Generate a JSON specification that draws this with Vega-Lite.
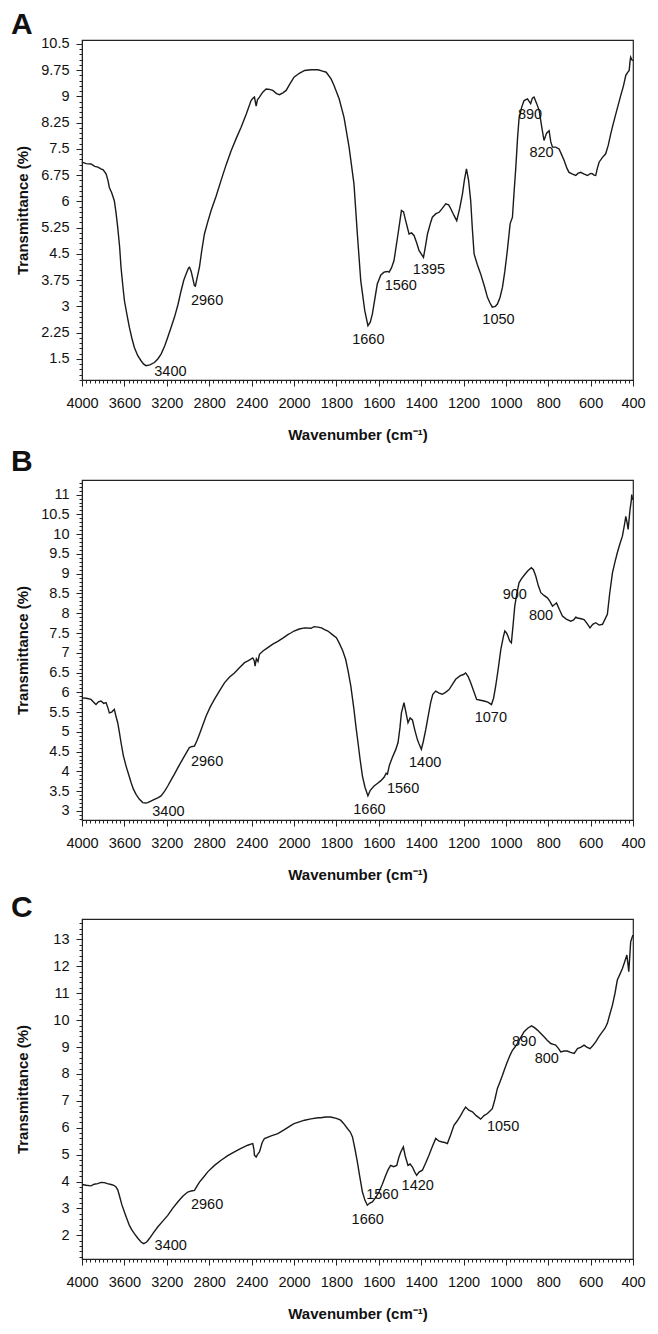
{
"$schema": "https://vega.github.io/schema/vega-lite/v6.json",
"padding": {"top": 9, "left": 10, "right": 0, "bottom": 0},
"spacing": 9,
"config": {
  "font": "Liberation Sans",
  "view": {"stroke": "#222", "strokeWidth": 1.2},
  "axis": {"domainColor": "#222", "tickColor": "#222", "labelColor": "#111", "titleColor": "#111", "labelFontSize": 14.5, "titleFontSize": 15, "titleFontWeight": "bold", "grid": false, "labelOverlap": false, "labelFlush": false, "labelBound": false},
  "title": {"fontSize": 30, "fontWeight": "bold", "anchor": "start", "frame": "bounds", "color": "#111", "baseline": "alphabetic", "dx": -4},
  "text": {"fontSize": 14.5, "color": "#111"}
},
"datasets": {
"a": [
{"wn":4000,"t":7.12},{"wn":3960,"t":7.08},{"wn":3915,"t":7.07},{"wn":3880,"t":7.0},{"wn":3850,"t":6.98},{"wn":3821,"t":6.93},{"wn":3800,"t":6.9},{"wn":3773,"t":6.79},{"wn":3755,"t":6.6},{"wn":3742,"t":6.4},{"wn":3720,"t":6.25},{"wn":3695,"t":6.02},{"wn":3680,"t":5.7},{"wn":3663,"t":5.26},{"wn":3645,"t":4.7},{"wn":3632,"t":4.12},{"wn":3615,"t":3.6},{"wn":3600,"t":3.17},{"wn":3575,"t":2.75},{"wn":3553,"t":2.4},{"wn":3530,"t":2.1},{"wn":3506,"t":1.83},{"wn":3475,"t":1.6},{"wn":3443,"t":1.45},{"wn":3420,"t":1.36},{"wn":3396,"t":1.31},{"wn":3360,"t":1.33},{"wn":3317,"t":1.4},{"wn":3285,"t":1.5},{"wn":3254,"t":1.64},{"wn":3220,"t":1.87},{"wn":3191,"t":2.12},{"wn":3160,"t":2.4},{"wn":3128,"t":2.69},{"wn":3095,"t":3.05},{"wn":3065,"t":3.45},{"wn":3040,"t":3.75},{"wn":3018,"t":3.93},{"wn":2995,"t":4.1},{"wn":2985,"t":4.12},{"wn":2970,"t":4.0},{"wn":2955,"t":3.8},{"wn":2940,"t":3.6},{"wn":2930,"t":3.58},{"wn":2915,"t":3.8},{"wn":2892,"t":4.12},{"wn":2870,"t":4.6},{"wn":2845,"t":5.07},{"wn":2815,"t":5.4},{"wn":2782,"t":5.74},{"wn":2735,"t":6.15},{"wn":2688,"t":6.6},{"wn":2640,"t":7.05},{"wn":2593,"t":7.45},{"wn":2545,"t":7.8},{"wn":2499,"t":8.12},{"wn":2450,"t":8.5},{"wn":2405,"t":8.88},{"wn":2385,"t":8.95},{"wn":2373,"t":8.98},{"wn":2362,"t":8.8},{"wn":2357,"t":8.72},{"wn":2345,"t":8.9},{"wn":2326,"t":8.98},{"wn":2295,"t":9.12},{"wn":2263,"t":9.21},{"wn":2230,"t":9.2},{"wn":2200,"t":9.17},{"wn":2165,"t":9.08},{"wn":2137,"t":9.05},{"wn":2105,"t":9.1},{"wn":2074,"t":9.17},{"wn":2040,"t":9.35},{"wn":2000,"t":9.55},{"wn":1975,"t":9.66},{"wn":1950,"t":9.74},{"wn":1920,"t":9.76},{"wn":1887,"t":9.76},{"wn":1865,"t":9.72},{"wn":1848,"t":9.69},{"wn":1825,"t":9.5},{"wn":1811,"t":9.31},{"wn":1787,"t":8.93},{"wn":1764,"t":8.4},{"wn":1740,"t":7.55},{"wn":1717,"t":6.5},{"wn":1701,"t":5.07},{"wn":1685,"t":3.74},{"wn":1666,"t":2.88},{"wn":1651,"t":2.45},{"wn":1640,"t":2.55},{"wn":1630,"t":2.79},{"wn":1607,"t":3.64},{"wn":1590,"t":3.9},{"wn":1575,"t":3.98},{"wn":1560,"t":4.0},{"wn":1551,"t":3.98},{"wn":1540,"t":4.1},{"wn":1528,"t":4.31},{"wn":1509,"t":5.07},{"wn":1493,"t":5.74},{"wn":1483,"t":5.7},{"wn":1473,"t":5.45},{"wn":1457,"t":5.07},{"wn":1445,"t":5.1},{"wn":1433,"t":5.02},{"wn":1420,"t":4.8},{"wn":1410,"t":4.6},{"wn":1389,"t":4.4},{"wn":1380,"t":4.7},{"wn":1370,"t":5.07},{"wn":1355,"t":5.4},{"wn":1347,"t":5.55},{"wn":1330,"t":5.65},{"wn":1315,"t":5.69},{"wn":1300,"t":5.8},{"wn":1284,"t":5.93},{"wn":1270,"t":5.9},{"wn":1260,"t":5.79},{"wn":1245,"t":5.6},{"wn":1232,"t":5.45},{"wn":1218,"t":5.8},{"wn":1205,"t":6.21},{"wn":1196,"t":6.6},{"wn":1186,"t":6.93},{"wn":1176,"t":6.6},{"wn":1166,"t":6.02},{"wn":1158,"t":5.2},{"wn":1150,"t":4.5},{"wn":1135,"t":4.2},{"wn":1119,"t":3.93},{"wn":1100,"t":3.55},{"wn":1087,"t":3.26},{"wn":1075,"t":3.1},{"wn":1064,"t":2.98},{"wn":1050,"t":3.0},{"wn":1040,"t":3.07},{"wn":1028,"t":3.25},{"wn":1016,"t":3.55},{"wn":1005,"t":4.0},{"wn":993,"t":4.6},{"wn":980,"t":5.36},{"wn":969,"t":5.55},{"wn":962,"t":6.2},{"wn":953,"t":6.98},{"wn":945,"t":7.8},{"wn":938,"t":8.36},{"wn":925,"t":8.7},{"wn":914,"t":8.88},{"wn":898,"t":8.93},{"wn":883,"t":8.79},{"wn":875,"t":8.95},{"wn":867,"t":8.98},{"wn":855,"t":8.8},{"wn":843,"t":8.6},{"wn":830,"t":8.1},{"wn":820,"t":7.74},{"wn":808,"t":7.95},{"wn":796,"t":8.02},{"wn":788,"t":7.7},{"wn":780,"t":7.55},{"wn":765,"t":7.55},{"wn":749,"t":7.5},{"wn":738,"t":7.35},{"wn":725,"t":7.17},{"wn":712,"t":6.95},{"wn":702,"t":6.83},{"wn":685,"t":6.78},{"wn":670,"t":6.74},{"wn":660,"t":6.8},{"wn":647,"t":6.83},{"wn":630,"t":6.78},{"wn":615,"t":6.74},{"wn":600,"t":6.8},{"wn":592,"t":6.79},{"wn":584,"t":6.75},{"wn":576,"t":6.74},{"wn":568,"t":6.95},{"wn":560,"t":7.12},{"wn":545,"t":7.25},{"wn":529,"t":7.36},{"wn":517,"t":7.6},{"wn":505,"t":7.93},{"wn":494,"t":8.2},{"wn":481,"t":8.5},{"wn":470,"t":8.75},{"wn":458,"t":9.02},{"wn":445,"t":9.3},{"wn":434,"t":9.6},{"wn":426,"t":9.68},{"wn":418,"t":9.74},{"wn":414,"t":10.0},{"wn":411,"t":10.12},{"wn":406,"t":10.05},{"wn":401,"t":10.02}
],
"la": [
{"wn":3166,"t":1.12,"label":"3400"},{"wn":2820,"t":3.17,"label":"2960"},{"wn":1649,"t":2.05,"label":"1660"},{"wn":1496,"t":3.58,"label":"1560"},{"wn":1363,"t":4.05,"label":"1395"},{"wn":1035,"t":2.62,"label":"1050"},{"wn":886,"t":8.48,"label":"890"},{"wn":832,"t":7.38,"label":"820"}
],
"b": [
{"wn":4000,"t":5.86},{"wn":3960,"t":5.85},{"wn":3915,"t":5.82},{"wn":3890,"t":5.75},{"wn":3868,"t":5.69},{"wn":3845,"t":5.76},{"wn":3821,"t":5.78},{"wn":3795,"t":5.72},{"wn":3773,"t":5.74},{"wn":3755,"t":5.6},{"wn":3742,"t":5.48},{"wn":3720,"t":5.5},{"wn":3695,"t":5.57},{"wn":3680,"t":5.4},{"wn":3663,"t":5.23},{"wn":3648,"t":5.0},{"wn":3632,"t":4.73},{"wn":3610,"t":4.4},{"wn":3585,"t":4.14},{"wn":3560,"t":3.92},{"wn":3537,"t":3.72},{"wn":3515,"t":3.55},{"wn":3490,"t":3.42},{"wn":3460,"t":3.3},{"wn":3427,"t":3.21},{"wn":3400,"t":3.2},{"wn":3380,"t":3.21},{"wn":3350,"t":3.25},{"wn":3317,"t":3.29},{"wn":3285,"t":3.33},{"wn":3254,"t":3.38},{"wn":3220,"t":3.5},{"wn":3191,"t":3.63},{"wn":3160,"t":3.78},{"wn":3128,"t":3.93},{"wn":3090,"t":4.12},{"wn":3050,"t":4.31},{"wn":3020,"t":4.45},{"wn":2987,"t":4.6},{"wn":2960,"t":4.63},{"wn":2939,"t":4.64},{"wn":2915,"t":4.78},{"wn":2892,"t":4.94},{"wn":2860,"t":5.17},{"wn":2829,"t":5.4},{"wn":2790,"t":5.63},{"wn":2751,"t":5.82},{"wn":2700,"t":6.05},{"wn":2656,"t":6.24},{"wn":2610,"t":6.38},{"wn":2562,"t":6.49},{"wn":2515,"t":6.62},{"wn":2467,"t":6.75},{"wn":2430,"t":6.8},{"wn":2389,"t":6.87},{"wn":2375,"t":6.8},{"wn":2367,"t":6.66},{"wn":2355,"t":6.85},{"wn":2340,"t":6.78},{"wn":2326,"t":6.96},{"wn":2290,"t":7.05},{"wn":2247,"t":7.13},{"wn":2200,"t":7.22},{"wn":2153,"t":7.29},{"wn":2105,"t":7.37},{"wn":2058,"t":7.46},{"wn":2030,"t":7.5},{"wn":2000,"t":7.55},{"wn":1975,"t":7.6},{"wn":1950,"t":7.63},{"wn":1920,"t":7.62},{"wn":1905,"t":7.66},{"wn":1887,"t":7.65},{"wn":1870,"t":7.63},{"wn":1858,"t":7.59},{"wn":1840,"t":7.55},{"wn":1819,"t":7.46},{"wn":1800,"t":7.38},{"wn":1787,"t":7.25},{"wn":1770,"t":7.05},{"wn":1756,"t":6.83},{"wn":1745,"t":6.55},{"wn":1732,"t":6.16},{"wn":1717,"t":5.57},{"wn":1707,"t":5.1},{"wn":1698,"t":4.73},{"wn":1688,"t":4.3},{"wn":1677,"t":3.88},{"wn":1665,"t":3.6},{"wn":1651,"t":3.38},{"wn":1640,"t":3.52},{"wn":1622,"t":3.63},{"wn":1605,"t":3.7},{"wn":1591,"t":3.76},{"wn":1575,"t":3.85},{"wn":1565,"t":3.95},{"wn":1559,"t":3.93},{"wn":1550,"t":4.15},{"wn":1536,"t":4.35},{"wn":1520,"t":4.55},{"wn":1509,"t":4.73},{"wn":1500,"t":5.1},{"wn":1493,"t":5.48},{"wn":1481,"t":5.74},{"wn":1472,"t":5.5},{"wn":1462,"t":5.23},{"wn":1452,"t":5.35},{"wn":1441,"t":5.3},{"wn":1430,"t":5.05},{"wn":1418,"t":4.81},{"wn":1410,"t":4.7},{"wn":1399,"t":4.56},{"wn":1390,"t":4.75},{"wn":1378,"t":5.06},{"wn":1365,"t":5.45},{"wn":1355,"t":5.74},{"wn":1345,"t":5.95},{"wn":1331,"t":6.03},{"wn":1315,"t":5.98},{"wn":1300,"t":5.95},{"wn":1285,"t":6.0},{"wn":1268,"t":6.07},{"wn":1250,"t":6.22},{"wn":1237,"t":6.33},{"wn":1215,"t":6.42},{"wn":1200,"t":6.45},{"wn":1190,"t":6.49},{"wn":1178,"t":6.4},{"wn":1166,"t":6.24},{"wn":1150,"t":6.0},{"wn":1138,"t":5.82},{"wn":1120,"t":5.8},{"wn":1103,"t":5.78},{"wn":1085,"t":5.75},{"wn":1068,"t":5.69},{"wn":1058,"t":5.85},{"wn":1048,"t":6.16},{"wn":1036,"t":6.6},{"wn":1024,"t":7.08},{"wn":1012,"t":7.4},{"wn":1005,"t":7.55},{"wn":997,"t":7.5},{"wn":990,"t":7.42},{"wn":982,"t":7.3},{"wn":974,"t":7.25},{"wn":966,"t":7.7},{"wn":958,"t":8.18},{"wn":948,"t":8.5},{"wn":938,"t":8.77},{"wn":925,"t":8.88},{"wn":911,"t":8.98},{"wn":895,"t":9.08},{"wn":880,"t":9.15},{"wn":870,"t":9.1},{"wn":859,"t":8.94},{"wn":847,"t":8.7},{"wn":835,"t":8.52},{"wn":820,"t":8.45},{"wn":804,"t":8.39},{"wn":792,"t":8.3},{"wn":780,"t":8.18},{"wn":770,"t":8.22},{"wn":761,"t":8.26},{"wn":748,"t":8.1},{"wn":733,"t":7.93},{"wn":715,"t":7.85},{"wn":694,"t":7.8},{"wn":680,"t":7.83},{"wn":670,"t":7.9},{"wn":662,"t":7.88},{"wn":645,"t":7.86},{"wn":631,"t":7.84},{"wn":618,"t":7.75},{"wn":603,"t":7.63},{"wn":590,"t":7.72},{"wn":576,"t":7.76},{"wn":560,"t":7.7},{"wn":544,"t":7.72},{"wn":532,"t":7.85},{"wn":521,"t":7.97},{"wn":510,"t":8.5},{"wn":497,"t":9.02},{"wn":485,"t":9.3},{"wn":474,"t":9.53},{"wn":462,"t":9.75},{"wn":450,"t":9.95},{"wn":440,"t":10.25},{"wn":434,"t":10.45},{"wn":428,"t":10.3},{"wn":423,"t":10.12},{"wn":418,"t":10.4},{"wn":414,"t":10.62},{"wn":408,"t":10.85},{"wn":406,"t":11.0},{"wn":403,"t":10.9},{"wn":401,"t":10.87}
],
"lb": [
{"wn":3185,"t":2.98,"label":"3400"},{"wn":2820,"t":4.24,"label":"2960"},{"wn":1644,"t":3.02,"label":"1660"},{"wn":1485,"t":3.56,"label":"1560"},{"wn":1381,"t":4.2,"label":"1400"},{"wn":1071,"t":5.36,"label":"1070"},{"wn":958,"t":8.47,"label":"900"},{"wn":834,"t":7.94,"label":"800"}
],
"c": [
{"wn":4000,"t":3.89},{"wn":3960,"t":3.86},{"wn":3915,"t":3.84},{"wn":3885,"t":3.9},{"wn":3852,"t":3.92},{"wn":3820,"t":3.97},{"wn":3789,"t":3.96},{"wn":3760,"t":3.92},{"wn":3726,"t":3.89},{"wn":3700,"t":3.86},{"wn":3679,"t":3.8},{"wn":3662,"t":3.68},{"wn":3648,"t":3.49},{"wn":3625,"t":3.15},{"wn":3600,"t":2.87},{"wn":3575,"t":2.6},{"wn":3553,"t":2.37},{"wn":3530,"t":2.2},{"wn":3506,"t":2.06},{"wn":3475,"t":1.9},{"wn":3443,"t":1.75},{"wn":3418,"t":1.69},{"wn":3390,"t":1.75},{"wn":3364,"t":1.88},{"wn":3325,"t":2.1},{"wn":3286,"t":2.31},{"wn":3240,"t":2.52},{"wn":3191,"t":2.74},{"wn":3145,"t":3.0},{"wn":3097,"t":3.24},{"wn":3050,"t":3.45},{"wn":3002,"t":3.61},{"wn":2970,"t":3.65},{"wn":2939,"t":3.67},{"wn":2915,"t":3.83},{"wn":2892,"t":3.98},{"wn":2850,"t":4.18},{"wn":2814,"t":4.36},{"wn":2750,"t":4.6},{"wn":2688,"t":4.79},{"wn":2625,"t":4.96},{"wn":2562,"t":5.1},{"wn":2500,"t":5.23},{"wn":2436,"t":5.35},{"wn":2400,"t":5.4},{"wn":2389,"t":5.41},{"wn":2378,"t":5.2},{"wn":2373,"t":4.98},{"wn":2357,"t":4.91},{"wn":2345,"t":5.0},{"wn":2326,"t":5.1},{"wn":2300,"t":5.45},{"wn":2279,"t":5.6},{"wn":2215,"t":5.7},{"wn":2153,"t":5.78},{"wn":2090,"t":5.93},{"wn":2027,"t":6.09},{"wn":2000,"t":6.15},{"wn":1975,"t":6.22},{"wn":1950,"t":6.28},{"wn":1920,"t":6.33},{"wn":1887,"t":6.37},{"wn":1874,"t":6.37},{"wn":1850,"t":6.4},{"wn":1827,"t":6.4},{"wn":1800,"t":6.35},{"wn":1780,"t":6.28},{"wn":1765,"t":6.15},{"wn":1748,"t":5.97},{"wn":1735,"t":5.85},{"wn":1724,"t":5.66},{"wn":1712,"t":5.2},{"wn":1701,"t":4.73},{"wn":1690,"t":4.2},{"wn":1677,"t":3.61},{"wn":1665,"t":3.3},{"wn":1654,"t":3.12},{"wn":1642,"t":3.2},{"wn":1630,"t":3.24},{"wn":1615,"t":3.4},{"wn":1599,"t":3.61},{"wn":1583,"t":3.9},{"wn":1567,"t":4.23},{"wn":1555,"t":4.45},{"wn":1544,"t":4.6},{"wn":1530,"t":4.55},{"wn":1515,"t":4.6},{"wn":1505,"t":4.9},{"wn":1496,"t":5.1},{"wn":1484,"t":5.29},{"wn":1475,"t":4.95},{"wn":1462,"t":4.6},{"wn":1452,"t":4.65},{"wn":1441,"t":4.54},{"wn":1430,"t":4.35},{"wn":1421,"t":4.23},{"wn":1410,"t":4.35},{"wn":1394,"t":4.42},{"wn":1378,"t":4.7},{"wn":1363,"t":4.98},{"wn":1347,"t":5.3},{"wn":1331,"t":5.6},{"wn":1315,"t":5.5},{"wn":1300,"t":5.47},{"wn":1288,"t":5.45},{"wn":1276,"t":5.41},{"wn":1260,"t":5.75},{"wn":1245,"t":6.09},{"wn":1230,"t":6.25},{"wn":1213,"t":6.46},{"wn":1200,"t":6.65},{"wn":1190,"t":6.77},{"wn":1175,"t":6.65},{"wn":1158,"t":6.59},{"wn":1140,"t":6.45},{"wn":1119,"t":6.32},{"wn":1103,"t":6.45},{"wn":1087,"t":6.53},{"wn":1075,"t":6.62},{"wn":1064,"t":6.71},{"wn":1052,"t":7.05},{"wn":1040,"t":7.46},{"wn":1028,"t":7.7},{"wn":1016,"t":7.95},{"wn":1005,"t":8.2},{"wn":993,"t":8.45},{"wn":980,"t":8.7},{"wn":969,"t":8.88},{"wn":957,"t":9.0},{"wn":946,"t":9.13},{"wn":930,"t":9.35},{"wn":914,"t":9.57},{"wn":897,"t":9.7},{"wn":879,"t":9.79},{"wn":865,"t":9.72},{"wn":851,"t":9.63},{"wn":835,"t":9.5},{"wn":820,"t":9.38},{"wn":805,"t":9.25},{"wn":788,"t":9.13},{"wn":776,"t":9.1},{"wn":765,"t":9.07},{"wn":752,"t":8.95},{"wn":741,"t":8.82},{"wn":725,"t":8.85},{"wn":710,"t":8.85},{"wn":695,"t":8.8},{"wn":678,"t":8.76},{"wn":670,"t":8.85},{"wn":662,"t":8.94},{"wn":645,"t":9.0},{"wn":631,"t":9.07},{"wn":618,"t":9.0},{"wn":603,"t":8.94},{"wn":590,"t":9.05},{"wn":576,"t":9.19},{"wn":560,"t":9.4},{"wn":544,"t":9.57},{"wn":532,"t":9.7},{"wn":521,"t":9.88},{"wn":510,"t":10.2},{"wn":497,"t":10.56},{"wn":485,"t":11.0},{"wn":474,"t":11.49},{"wn":462,"t":11.7},{"wn":450,"t":11.92},{"wn":440,"t":12.15},{"wn":429,"t":12.42},{"wn":424,"t":12.1},{"wn":420,"t":11.8},{"wn":415,"t":12.4},{"wn":411,"t":12.91},{"wn":405,"t":13.05},{"wn":401,"t":13.16}
],
"lc": [
{"wn":3163,"t":1.6,"label":"3400"},{"wn":2820,"t":3.12,"label":"2960"},{"wn":1652,"t":2.56,"label":"1660"},{"wn":1583,"t":3.49,"label":"1560"},{"wn":1416,"t":3.84,"label":"1420"},{"wn":1013,"t":6.01,"label":"1050"},{"wn":914,"t":9.17,"label":"890"},{"wn":807,"t":8.55,"label":"800"}
]
},
"vconcat": [
{
"spacing": 3,
"vconcat": [
{
  "width": 551, "height": 340,
  "title": {"text": "A", "offset": -4},
  "encoding": {
    "x": {"field": "wn", "type": "quantitative",
      "scale": {"domain": [4000, 2000, 400], "range": [0, 212, 551]},
      "axis": {"title": "Wavenumber (cm⁻¹)", "format": "d", "labelPadding": 10, "titleX": 275.5, "titleY": 47,
        "values": [4000,3960,3920,3880,3840,3800,3760,3720,3680,3640,3600,3560,3520,3480,3440,3400,3360,3320,3280,3240,3200,3160,3120,3080,3040,3000,2960,2920,2880,2840,2800,2760,2720,2680,2640,2600,2560,2520,2480,2440,2400,2360,2320,2280,2240,2200,2160,2120,2080,2040,2000,1980,1960,1940,1920,1900,1880,1860,1840,1820,1800,1780,1760,1740,1720,1700,1680,1660,1640,1620,1600,1580,1560,1540,1520,1500,1480,1460,1440,1420,1400,1380,1360,1340,1320,1300,1280,1260,1240,1220,1200,1180,1160,1140,1120,1100,1080,1060,1040,1020,1000,980,960,940,920,900,880,860,840,820,800,780,760,740,720,700,680,660,640,620,600,580,560,540,520,500,480,460,440,420,400],
        "labelExpr": "((datum.value >= 2000 && datum.value % 400 == 0) || (datum.value < 2000 && datum.value % 200 == 0)) ? datum.label : ''",
        "tickSize": {"condition": {"test": "(datum.value >= 2000 && datum.value % 400 == 0) || (datum.value < 2000 && datum.value % 200 == 0)", "value": 6}, "value": 3}}},
    "y": {"field": "t", "type": "quantitative",
      "scale": {"domain": [0.9, 10.61], "nice": false, "zero": false},
      "axis": {"title": "Transmittance (%)", "format": "~g", "labelPadding": 7, "titleX": -52, "titleY": 170,
        "values": [0.9,1.05,1.2,1.35,1.5,1.65,1.8,1.95,2.1,2.25,2.4,2.55,2.7,2.85,3,3.15,3.3,3.45,3.6,3.75,3.9,4.05,4.2,4.35,4.5,4.65,4.8,4.95,5.1,5.25,5.4,5.55,5.7,5.85,6,6.15,6.3,6.45,6.6,6.75,6.9,7.05,7.2,7.35,7.5,7.65,7.8,7.95,8.1,8.25,8.4,8.55,8.7,8.85,9,9.15,9.3,9.45,9.6,9.75,9.9,10.05,10.2,10.35,10.5],
        "labelExpr": "(datum.value >= 1.4 && abs(datum.value/0.75 - round(datum.value/0.75)) < 0.01) ? datum.label : ''",
        "tickSize": {"condition": {"test": "datum.value >= 1.4 && abs(datum.value/0.75 - round(datum.value/0.75)) < 0.01", "value": 6}, "value": 3}}}
  },
  "layer": [
    {"data": {"name": "a"}, "mark": {"type": "line", "color": "#1a1a1a", "strokeWidth": 1.4}},
    {"data": {"name": "la"}, "mark": {"type": "text"}, "encoding": {"text": {"field": "label"}}}
  ]
},
{
  "width": 551, "height": 340,
  "title": {"text": "B", "offset": -2},
  "encoding": {
    "x": {"field": "wn", "type": "quantitative",
      "scale": {"domain": [4000, 2000, 400], "range": [0, 212, 551]},
      "axis": {"title": "Wavenumber (cm⁻¹)", "format": "d", "labelPadding": 10, "titleX": 275.5, "titleY": 47,
        "values": [4000,3960,3920,3880,3840,3800,3760,3720,3680,3640,3600,3560,3520,3480,3440,3400,3360,3320,3280,3240,3200,3160,3120,3080,3040,3000,2960,2920,2880,2840,2800,2760,2720,2680,2640,2600,2560,2520,2480,2440,2400,2360,2320,2280,2240,2200,2160,2120,2080,2040,2000,1980,1960,1940,1920,1900,1880,1860,1840,1820,1800,1780,1760,1740,1720,1700,1680,1660,1640,1620,1600,1580,1560,1540,1520,1500,1480,1460,1440,1420,1400,1380,1360,1340,1320,1300,1280,1260,1240,1220,1200,1180,1160,1140,1120,1100,1080,1060,1040,1020,1000,980,960,940,920,900,880,860,840,820,800,780,760,740,720,700,680,660,640,620,600,580,560,540,520,500,480,460,440,420,400],
        "labelExpr": "((datum.value >= 2000 && datum.value % 400 == 0) || (datum.value < 2000 && datum.value % 200 == 0)) ? datum.label : ''",
        "tickSize": {"condition": {"test": "(datum.value >= 2000 && datum.value % 400 == 0) || (datum.value < 2000 && datum.value % 200 == 0)", "value": 6}, "value": 3}}},
    "y": {"field": "t", "type": "quantitative",
      "scale": {"domain": [2.77, 11.37], "nice": false, "zero": false},
      "axis": {"title": "Transmittance (%)", "format": "~g", "labelPadding": 7, "titleX": -52, "titleY": 170,
        "values": [2.8,2.9,3,3.1,3.2,3.3,3.4,3.5,3.6,3.7,3.8,3.9,4,4.1,4.2,4.3,4.4,4.5,4.6,4.7,4.8,4.9,5,5.1,5.2,5.3,5.4,5.5,5.6,5.7,5.8,5.9,6,6.1,6.2,6.3,6.4,6.5,6.6,6.7,6.8,6.9,7,7.1,7.2,7.3,7.4,7.5,7.6,7.7,7.8,7.9,8,8.1,8.2,8.3,8.4,8.5,8.6,8.7,8.8,8.9,9,9.1,9.2,9.3,9.4,9.5,9.6,9.7,9.8,9.9,10,10.1,10.2,10.3,10.4,10.5,10.6,10.7,10.8,10.9,11,11.1,11.2,11.3],
        "labelExpr": "(abs(datum.value*2 - round(datum.value*2)) < 0.01) ? datum.label : ''",
        "tickSize": {"condition": {"test": "abs(datum.value*2 - round(datum.value*2)) < 0.01", "value": 6}, "value": 3}}}
  },
  "layer": [
    {"data": {"name": "b"}, "mark": {"type": "line", "color": "#1a1a1a", "strokeWidth": 1.4}},
    {"data": {"name": "lb"}, "mark": {"type": "text"}, "encoding": {"text": {"field": "label"}}}
  ]
}
]
},
{
  "width": 551, "height": 340,
  "title": {"text": "C", "offset": -8},
  "encoding": {
    "x": {"field": "wn", "type": "quantitative",
      "scale": {"domain": [4000, 2000, 400], "range": [0, 212, 551]},
      "axis": {"title": "Wavenumber (cm⁻¹)", "format": "d", "labelPadding": 10, "titleX": 275.5, "titleY": 47,
        "values": [4000,3960,3920,3880,3840,3800,3760,3720,3680,3640,3600,3560,3520,3480,3440,3400,3360,3320,3280,3240,3200,3160,3120,3080,3040,3000,2960,2920,2880,2840,2800,2760,2720,2680,2640,2600,2560,2520,2480,2440,2400,2360,2320,2280,2240,2200,2160,2120,2080,2040,2000,1980,1960,1940,1920,1900,1880,1860,1840,1820,1800,1780,1760,1740,1720,1700,1680,1660,1640,1620,1600,1580,1560,1540,1520,1500,1480,1460,1440,1420,1400,1380,1360,1340,1320,1300,1280,1260,1240,1220,1200,1180,1160,1140,1120,1100,1080,1060,1040,1020,1000,980,960,940,920,900,880,860,840,820,800,780,760,740,720,700,680,660,640,620,600,580,560,540,520,500,480,460,440,420,400],
        "labelExpr": "((datum.value >= 2000 && datum.value % 400 == 0) || (datum.value < 2000 && datum.value % 200 == 0)) ? datum.label : ''",
        "tickSize": {"condition": {"test": "(datum.value >= 2000 && datum.value % 400 == 0) || (datum.value < 2000 && datum.value % 200 == 0)", "value": 6}, "value": 3}}},
    "y": {"field": "t", "type": "quantitative",
      "scale": {"domain": [1.12, 13.76], "nice": false, "zero": false},
      "axis": {"title": "Transmittance (%)", "format": "~g", "labelPadding": 7, "titleX": -52, "titleY": 170,
        "values": [1.2,1.4,1.6,1.8,2,2.2,2.4,2.6,2.8,3,3.2,3.4,3.6,3.8,4,4.2,4.4,4.6,4.8,5,5.2,5.4,5.6,5.8,6,6.2,6.4,6.6,6.8,7,7.2,7.4,7.6,7.8,8,8.2,8.4,8.6,8.8,9,9.2,9.4,9.6,9.8,10,10.2,10.4,10.6,10.8,11,11.2,11.4,11.6,11.8,12,12.2,12.4,12.6,12.8,13,13.2,13.4,13.6],
        "labelExpr": "(datum.value >= 1.9 && abs(datum.value - round(datum.value)) < 0.01) ? datum.label : ''",
        "tickSize": {"condition": {"test": "datum.value >= 1.9 && abs(datum.value - round(datum.value)) < 0.01", "value": 6}, "value": 3}}}
  },
  "layer": [
    {"data": {"name": "c"}, "mark": {"type": "line", "color": "#1a1a1a", "strokeWidth": 1.4}},
    {"data": {"name": "lc"}, "mark": {"type": "text"}, "encoding": {"text": {"field": "label"}}}
  ]
}
]
}
